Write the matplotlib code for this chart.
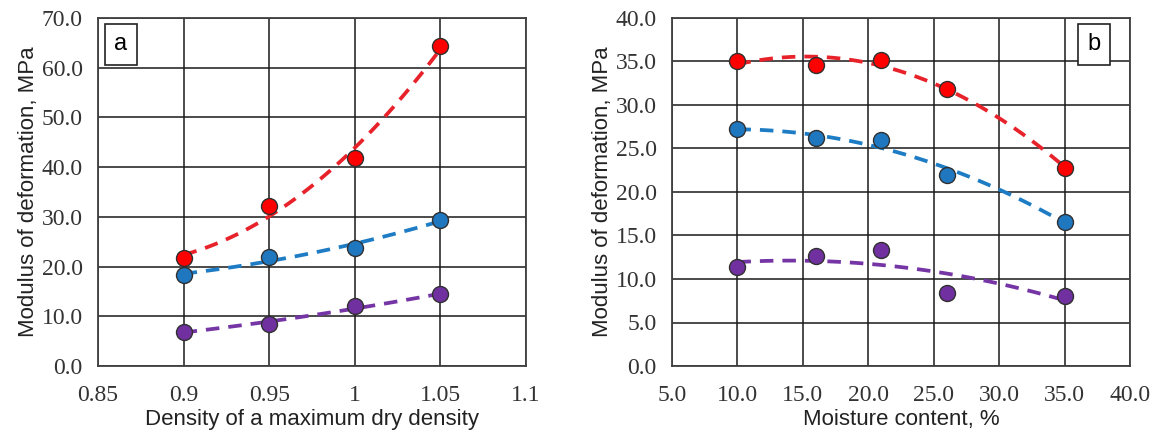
import matplotlib
matplotlib.use("Agg")
import matplotlib.pyplot as plt
import numpy as np

# panel a - density
dens = [0.9, 0.95, 1.0, 1.05]
a_red = [21.7, 32.1, 41.9, 64.4]
a_blue = [18.3, 21.9, 23.8, 29.4]
a_purple = [6.9, 8.5, 12.0, 14.4]

# panel b - moisture
moist = [10, 16, 21, 26, 35]
b_red = [35.0, 34.6, 35.2, 31.8, 22.8]
b_blue = [27.2, 26.2, 26.0, 22.0, 16.6]
b_purple = [11.4, 12.6, 13.3, 8.4, 8.1]

a_xticks = [0.85, 0.9, 0.95, 1.0, 1.05, 1.1]
a_xticklabels = ["0.85", "0.9", "0.95", "1", "1.05", "1.1"]

red = "#FF0000"
blue = "#1F77C0"
purple = "#7030A0"
line_red = "#E8222A"
line_blue = "#1E7CC4"
line_purple = "#7535A5"

serif = "Liberation Serif"
sans = "Liberation Sans"

fig = plt.figure(figsize=(11.56, 4.30), dpi=100)
ax1 = fig.add_axes([98/1156, 1-366/430, 428/1156, 348/430])
ax2 = fig.add_axes([672/1156, 1-366/430, 458/1156, 348/430])


def draw(ax, x, ys, cols, lcols):
    xs = np.linspace(min(x), max(x), 100)
    for y, c, lc in zip(ys, cols, lcols):
        # excel style 2nd order polynomial trendline
        p = np.polyfit(x, y, 2)
        ax.plot(xs, np.polyval(p, xs), color=lc, lw=2.7, dashes=(3.6, 2.4), zorder=3)
        ax.plot(x, y, "o", ms=11.5, mfc=c, mec="#303030", mew=1.0, zorder=4)


draw(ax1, dens, [a_red, a_blue, a_purple], [red, blue, purple], [line_red, line_blue, line_purple])
draw(ax2, moist, [b_red, b_blue, b_purple], [red, blue, purple], [line_red, line_blue, line_purple])

ax1.set_xlim(0.85, 1.1)
ax1.set_ylim(0, 70)
ax1.set_xticks(a_xticks)
ax1.set_xticklabels(a_xticklabels)
ax1.set_yticks(np.arange(0, 71, 10))
ax1.set_yticklabels(["%.1f" % v for v in np.arange(0, 71, 10)])

ax2.set_xlim(5, 40)
ax2.set_ylim(0, 40)
ax2.set_xticks(np.arange(5, 41, 5))
ax2.set_xticklabels(["%.1f" % v for v in np.arange(5, 41, 5)])
ax2.set_yticks(np.arange(0, 41, 5))
ax2.set_yticklabels(["%.1f" % v for v in np.arange(0, 41, 5)])

for ax in (ax1, ax2):
    ax.grid(True, color="#1a1a1a", lw=1.1, zorder=1)
    ax.set_axisbelow(True)
    for s in ax.spines.values():
        s.set_color("#404040")
        s.set_linewidth(1.3)
    ax.tick_params(length=0, labelsize=17, colors="#333333")
    ax.tick_params(axis="y", pad=11)
    ax.tick_params(axis="x", pad=14)
    for lab in ax.get_xticklabels() + ax.get_yticklabels():
        lab.set_fontfamily(serif)
    ax.set_ylabel("Modulus of deformation, MPa", fontfamily=sans, fontsize=16, color="#222222", labelpad=2)

ax1.set_xlabel("Density of a maximum dry density", fontfamily=sans, fontsize=16, color="#222222", labelpad=2)
ax2.set_xlabel("Moisture content, %", fontfamily=sans, fontsize=16, color="#222222", labelpad=2)

box = dict(boxstyle="square,pad=0.4", fc="white", ec="#222222", lw=1.2)
ax1.text(0.053, 0.925, "a", transform=ax1.transAxes, fontfamily=sans, fontsize=17,
         ha="center", va="center", bbox=box, zorder=5)
ax2.text(0.922, 0.925, "b", transform=ax2.transAxes, fontfamily=sans, fontsize=17,
         ha="center", va="center", bbox=box, zorder=5)

fig.savefig("out.png", dpi=100)
